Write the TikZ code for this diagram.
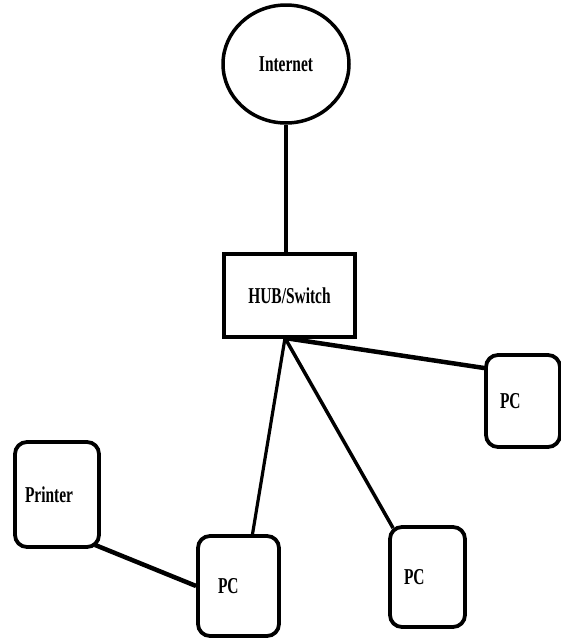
\documentclass[tikz,border=0pt]{standalone}
\usepackage{fontspec}
\setmainfont{Liberation Serif}
\usepackage{graphicx}
\usetikzlibrary{shapes.geometric}
\newcommand{\narrowtxt}[1]{\scalebox{0.68}[1]{\bfseries #1}}
\tikzset{
  dev/.style={draw, rounded corners=12pt, line width=3.8pt, align=left, inner xsep=14pt},
  link/.style={line width=3.2pt}
}
\begin{document}
\begin{tikzpicture}[x=1pt,y=-1pt,font=\fontsize{22.7}{26}\selectfont]
\useasboundingbox (0,0) rectangle (561,638);
% cloud and hub
\node [draw, ellipse, line width=3.5pt, minimum width=126pt, minimum height=118pt, inner sep=0pt] (inet) at (286,64) {\narrowtxt{Internet}};
\node [draw, line width=4pt, minimum width=131pt, minimum height=83pt, inner sep=0pt] (hub) at (289.5,295.5) {\narrowtxt{HUB/Switch}};
\coordinate (tap) at (285,338);

% devices
\node [dev, text width=46pt, minimum height=92pt] (pcR) at (523,401) {\narrowtxt{PC}};
\node [dev, text width=47pt, minimum height=100pt] (pcM) at (427.5,577) {\narrowtxt{PC}};
\node [dev, text width=53pt, minimum height=100pt, inner xsep=20pt, text width=41pt] (pcL) at (238.5,586) {\narrowtxt{PC}};
\node [dev, text width=64pt, minimum height=105pt, inner xsep=10pt] (prn) at (57,494.5) {\narrowtxt{Printer}};

% links
\draw [link] (inet) -- (inet |- hub.north);
\draw [link, line width=4.5pt] (tap) -- ([yshift=33pt]pcR.west);
\draw [link, line width=3.5pt] (tap) -- ([xshift=5pt,yshift=-3pt]pcM.north west);
\draw [link] (tap) -- ([xshift=14pt]pcL.north);
\draw [link, line width=4.5pt] ([xshift=-6pt,yshift=4pt]prn.south east) -- (pcL.west);

\end{tikzpicture}
\end{document}
